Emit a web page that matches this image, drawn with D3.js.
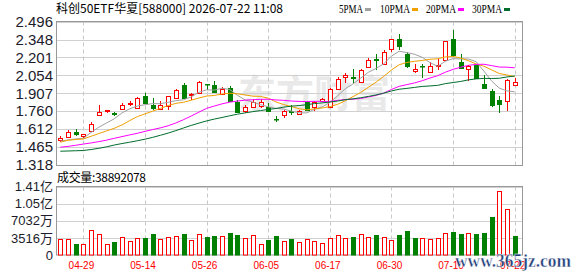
<!DOCTYPE html>
<html>
<head>
<meta charset="utf-8">
<script src="https://cdn.jsdelivr.net/npm/d3@7"></script>
<style>
body { margin: 0; background: #fff; }
svg { display: block; }
text { font-family: "Liberation Sans", "Noto Sans CJK SC", sans-serif; }
</style>
</head>
<body>
<svg id="chart" width="578" height="276"></svg>
<script>
// trading days shown on the chart
var dates = ["04-24","04-27","04-28","04-29","04-30","05-06","05-07","05-08","05-11","05-12",
             "05-13","05-14","05-15","05-18","05-19","05-20","05-21","05-22","05-25","05-26",
             "05-27","05-28","05-29","06-01","06-02","06-03","06-04","06-05","06-08","06-09",
             "06-10","06-11","06-12","06-15","06-16","06-17","06-18","06-22","06-23","06-24",
             "06-25","06-26","06-29","06-30","07-01","07-02","07-03","07-06","07-07","07-08",
             "07-09","07-10","07-13","07-14","07-15","07-16","07-17","07-20","07-21","07-22"];

var opens  = [1.521,1.551,1.587,1.559,1.598,1.729,1.758,1.747,1.783,1.815,
              1.786,1.881,1.813,1.778,1.796,1.870,1.971,1.889,1.905,1.984,
              1.976,1.900,1.954,1.837,1.758,1.791,1.802,1.796,1.692,1.731,
              1.762,1.737,1.832,1.794,1.846,1.794,1.941,2.042,2.040,1.999,
              2.129,2.190,2.154,2.269,2.355,2.228,2.094,2.132,2.085,2.132,
              2.184,2.350,2.165,2.105,2.140,1.985,1.927,1.854,1.840,1.970];
var highs  = [1.554,1.603,1.611,1.576,1.668,1.813,1.772,1.749,1.827,1.843,
              1.873,1.905,1.870,1.840,1.886,1.938,1.991,1.908,2.007,1.986,
              2.009,1.958,1.963,1.850,1.807,1.862,1.862,1.827,1.723,1.770,
              1.813,1.770,1.846,1.846,1.865,1.954,2.042,2.077,2.105,2.105,
              2.200,2.228,2.260,2.355,2.391,2.249,2.146,2.146,2.167,2.187,
              2.340,2.426,2.228,2.140,2.150,2.058,1.941,1.887,2.023,2.036];
var lows   = [1.505,1.545,1.559,1.543,1.594,1.723,1.745,1.723,1.772,1.799,
              1.780,1.818,1.770,1.772,1.772,1.866,1.860,1.848,1.897,1.936,
              1.917,1.896,1.843,1.756,1.745,1.790,1.790,1.760,1.668,1.701,
              1.731,1.731,1.761,1.761,1.840,1.790,1.938,1.990,1.982,1.993,
              2.120,2.099,2.150,2.244,2.263,2.113,2.077,2.036,2.080,2.097,
              2.175,2.208,2.105,2.009,2.031,1.941,1.794,1.742,1.758,1.968];
var closes = [1.540,1.592,1.568,1.572,1.657,1.750,1.769,1.737,1.813,1.824,
              1.868,1.821,1.786,1.807,1.881,1.933,1.862,1.900,1.999,1.980,
              1.922,1.941,1.848,1.758,1.791,1.832,1.837,1.764,1.690,1.760,
              1.756,1.760,1.764,1.837,1.860,1.941,2.023,2.058,2.034,2.097,
              2.184,2.180,2.249,2.350,2.298,2.126,2.110,2.128,2.134,2.140,
              2.336,2.216,2.118,2.129,2.031,1.949,1.813,1.821,2.015,1.997];
var prevClose = 1.520;

// volume in 万 (10k shares)
var volumes = [3296,3296,2266,2266,5083,4259,2266,2678,3639,2884,
               3502,3571,4326,3296,3708,3914,4326,3021,4326,3708,
               3914,3914,4532,4120,3502,4120,2266,3090,3914,2884,
               3296,2610,3227,2816,2472,3502,4052,3502,3708,4259,
               3708,4120,3708,3090,4120,4943,3502,3502,3296,3502,
               4532,4738,4326,4532,4326,4532,7895,13183,9475,3889];

var ma5  = [1.513,1.524,1.532,1.537,1.586,1.628,1.663,1.697,1.745,1.779,
            1.802,1.813,1.822,1.821,1.833,1.846,1.854,1.877,1.915,1.935,
            1.933,1.948,1.938,1.890,1.852,1.834,1.813,1.796,1.783,1.777,
            1.761,1.746,1.746,1.775,1.795,1.832,1.885,1.944,1.983,2.031,
            2.079,2.111,2.149,2.212,2.252,2.241,2.227,2.202,2.159,2.128,
            2.170,2.191,2.189,2.188,2.166,2.089,2.008,1.949,1.926,1.919];
var ma10 = [1.505,1.521,1.527,1.532,1.554,1.576,1.598,1.619,1.647,1.682,
            1.715,1.738,1.760,1.783,1.806,1.824,1.833,1.850,1.868,1.884,
            1.889,1.901,1.907,1.902,1.893,1.883,1.881,1.867,1.836,1.814,
            1.798,1.780,1.771,1.779,1.786,1.797,1.816,1.845,1.879,1.913,
            1.956,1.998,2.046,2.098,2.141,2.160,2.169,2.176,2.186,2.190,
            2.205,2.209,2.196,2.174,2.147,2.129,2.099,2.069,2.057,2.043];
var ma20 = [1.464,1.471,1.480,1.490,1.499,1.510,1.522,1.537,1.551,1.565,
            1.578,1.594,1.609,1.623,1.640,1.663,1.690,1.720,1.752,1.783,
            1.802,1.820,1.834,1.843,1.850,1.854,1.857,1.858,1.852,1.849,
            1.843,1.840,1.839,1.841,1.840,1.840,1.848,1.856,1.858,1.864,
            1.877,1.889,1.909,1.938,1.964,1.978,1.992,2.010,2.032,2.051,
            2.080,2.103,2.121,2.136,2.144,2.145,2.134,2.122,2.121,2.116];
var ma30 = [1.431,1.433,1.435,1.437,1.445,1.455,1.467,1.482,1.494,1.505,
            1.517,1.530,1.545,1.562,1.580,1.600,1.622,1.643,1.662,1.680,
            1.695,1.708,1.722,1.735,1.746,1.756,1.765,1.774,1.782,1.793,
            1.801,1.806,1.813,1.822,1.828,1.835,1.843,1.854,1.861,1.870,
            1.881,1.893,1.908,1.926,1.940,1.947,1.955,1.963,1.967,1.972,
            1.986,1.995,2.004,2.017,2.025,2.029,2.028,2.030,2.041,2.048];

var priceTicks = [1.318,1.465,1.612,1.760,1.907,2.054,2.201,2.348,2.496];
var volTicks = [0,3516,7032,10548,14064];
var volTickLabels = ["0","3516万","7032万","1.05亿","1.41亿"];
var dateTicks = ["04-29","05-14","05-26","06-05","06-17","06-30","07-10","07-22"];

var maNames = ["5PMA","10PMA","20PMA","30PMA"];
var maColors = ["#a0a0a0","#f0a000","#ff00ff","#006d2c"];

var RED = "#ff0000", GREEN = "#008000";

var left = 56, right = 522;
var priceTop = 21.5, priceBottom = 165;
var volTop = 186.5, volBottom = 255;

var svg = d3.select("#chart");

var x = d3.scalePoint().domain(dates).range([60.3, 514.7]);
var y = d3.scaleLinear().domain([1.318, 2.496]).range([priceBottom, priceTop]);
var yv = d3.scaleLinear().domain([0, 14064]).range([volBottom, volTop]);

function px(d) { return Math.round(x(d)); }
function crisp(v) { return Math.round(v) + 0.5; }

// title + legend
svg.append("text")
    .attr("x", 56).attr("y", 13)
    .attr("font-size", 12)
    .attr("textLength", 227).attr("lengthAdjust", "spacing")
    .style("font-family", "'Noto Sans CJK SC', sans-serif")
    .attr("fill", "#000")
    .text("科创50ETF华夏[588000] 2026-07-22 11:08");

var legendX = [339, 380, 426, 472];
var legendW = [24, 30, 30, 30];
var legend = svg.append("g");
maNames.forEach(function (name, i) {
    legend.append("text")
        .attr("x", legendX[i]).attr("y", 12.5)
        .attr("font-size", 12.5)
        .attr("textLength", legendW[i]).attr("lengthAdjust", "spacingAndGlyphs")
        .style("font-family", "'Liberation Serif', serif")
        .attr("fill", "#000")
        .text(name);
    legend.append("rect")
        .attr("x", legendX[i] + legendW[i] + 2).attr("y", 8)
        .attr("width", 6).attr("height", 3)
        .attr("fill", maColors[i]);
});

// watermark
svg.append("text")
    .attr("x", 238).attr("y", 107)
    .attr("font-size", 38).attr("font-weight", "bold")
    .style("font-family", "'Noto Sans CJK SC', sans-serif")
    .attr("fill", "#e9e9e9")
    .text("东方财富");

// grid: price panel
svg.append("g").selectAll("line")
    .data(priceTicks)
    .enter().append("line")
    .attr("x1", left).attr("x2", right)
    .attr("y1", function (d) { return crisp(y(d)); })
    .attr("y2", function (d) { return crisp(y(d)); })
    .attr("stroke", "#d0d0d0");

// grid: volume panel
svg.append("g").selectAll("line")
    .data(volTicks.slice(1))
    .enter().append("line")
    .attr("x1", left).attr("x2", right)
    .attr("y1", function (d) { return crisp(yv(d)); })
    .attr("y2", function (d) { return crisp(yv(d)); })
    .attr("stroke", "#d0d0d0");

// dashed verticals at date ticks
var vg = svg.append("g").attr("stroke", "#c8c8c8").attr("stroke-dasharray", "4,3");
dateTicks.forEach(function (d) {
    vg.append("line")
        .attr("x1", px(d) + 0.5).attr("x2", px(d) + 0.5)
        .attr("y1", priceTop).attr("y2", priceBottom);
    vg.append("line")
        .attr("x1", px(d) + 0.5).attr("x2", px(d) + 0.5)
        .attr("y1", volTop).attr("y2", volBottom);
});

// frames
svg.append("rect")
    .attr("x", left + 0.5).attr("y", priceTop)
    .attr("width", right - left).attr("height", crisp(priceBottom) - priceTop)
    .attr("fill", "none").attr("stroke", "#999");
svg.append("rect")
    .attr("x", left + 0.5).attr("y", volTop)
    .attr("width", right - left).attr("height", volBottom - volTop)
    .attr("fill", "none").attr("stroke", "#999");

// candles
var candles = svg.append("g").selectAll("g")
    .data(dates)
    .enter().append("g");

candles.append("line")
    .attr("x1", function (d) { return px(d) + 0.5; })
    .attr("x2", function (d) { return px(d) + 0.5; })
    .attr("y1", function (d, i) { return Math.round(y(highs[i])); })
    .attr("y2", function (d, i) { return Math.round(y(lows[i])); })
    .attr("stroke", function (d, i) { return closes[i] >= opens[i] ? RED : GREEN; });

candles.append("rect")
    .attr("x", function (d) { return px(d) - 1.5; })
    .attr("y", function (d, i) { return crisp(y(Math.max(opens[i], closes[i]))); })
    .attr("width", 4)
    .attr("height", function (d, i) {
        return Math.max(0.5, Math.round(Math.abs(y(opens[i]) - y(closes[i]))));
    })
    .attr("fill", function (d, i) { return closes[i] >= opens[i] ? "#fff" : GREEN; })
    .attr("stroke", function (d, i) { return closes[i] >= opens[i] ? RED : GREEN; });

// moving averages
var maSeries = [ma5, ma10, ma20, ma30];
var line = d3.line()
    .x(function (d, i) { return x(dates[i]); })
    .y(function (d) { return y(d); });
maSeries.forEach(function (s, k) {
    svg.append("path")
        .datum(s)
        .attr("d", line)
        .attr("fill", "none")
        .attr("stroke", maColors[k])
        .attr("stroke-width", 1);
});

// volume bars, coloured by close vs previous close
svg.append("g").selectAll("rect")
    .data(volumes)
    .enter().append("rect")
    .attr("x", function (d, i) { return px(dates[i]) - 1.5; })
    .attr("y", function (d) { return crisp(yv(d)); })
    .attr("width", 4)
    .attr("height", function (d) { return Math.round(volBottom - yv(d)) - 0.5; })
    .attr("fill", function (d, i) {
        var pc = i === 0 ? prevClose : closes[i - 1];
        return closes[i] >= pc ? "#fff" : GREEN;
    })
    .attr("stroke", function (d, i) {
        var pc = i === 0 ? prevClose : closes[i - 1];
        return closes[i] >= pc ? RED : GREEN;
    });

// axes
var yAxis = svg.append("g")
    .attr("transform", "translate(" + left + ",0)")
    .call(d3.axisLeft(y).tickValues(priceTicks).tickFormat(d3.format(".3f")).tickSize(0).tickPadding(3));
yAxis.select(".domain").remove();
yAxis.selectAll("text")
    .attr("font-size", 15)
    .style("font-family", "'Liberation Sans Narrow', 'Liberation Sans', sans-serif")
    .attr("fill", "#1c1c2c");

var vAxis = svg.append("g")
    .attr("transform", "translate(" + left + ",0)")
    .call(d3.axisLeft(yv).tickValues(volTicks)
        .tickFormat(function (d, i) { return volTickLabels[i]; })
        .tickSize(0).tickPadding(3));
vAxis.select(".domain").remove();
vAxis.selectAll("text")
    .attr("font-size", 13)
    .attr("fill", "#1c1c2c");

var xAxis = svg.append("g")
    .attr("transform", "translate(-2.5," + volBottom + ")")
    .call(d3.axisBottom(x).tickValues(dateTicks).tickSize(0).tickPadding(7));
xAxis.select(".domain").remove();
xAxis.selectAll("text")
    .attr("font-size", 10)
    .attr("fill", RED);

svg.append("text")
    .attr("x", 57).attr("y", 181.5)
    .attr("font-size", 12)
    .attr("textLength", 89).attr("lengthAdjust", "spacing")
    .style("font-family", "'Noto Sans CJK SC', sans-serif")
    .attr("fill", "#000")
    .text("成交量:38892078");

// site stamp, bottom right
svg.append("text")
    .attr("x", 455).attr("y", 267)
    .attr("font-size", 18).attr("font-weight", "bold")
    .attr("textLength", 116).attr("lengthAdjust", "spacingAndGlyphs")
    .style("font-family", "'Liberation Serif', serif")
    .attr("fill", "#1d3d78")
    .attr("stroke", "#fff").attr("stroke-width", 0.4)
    .text("www.365jz.com");
</script>
</body>
</html>
